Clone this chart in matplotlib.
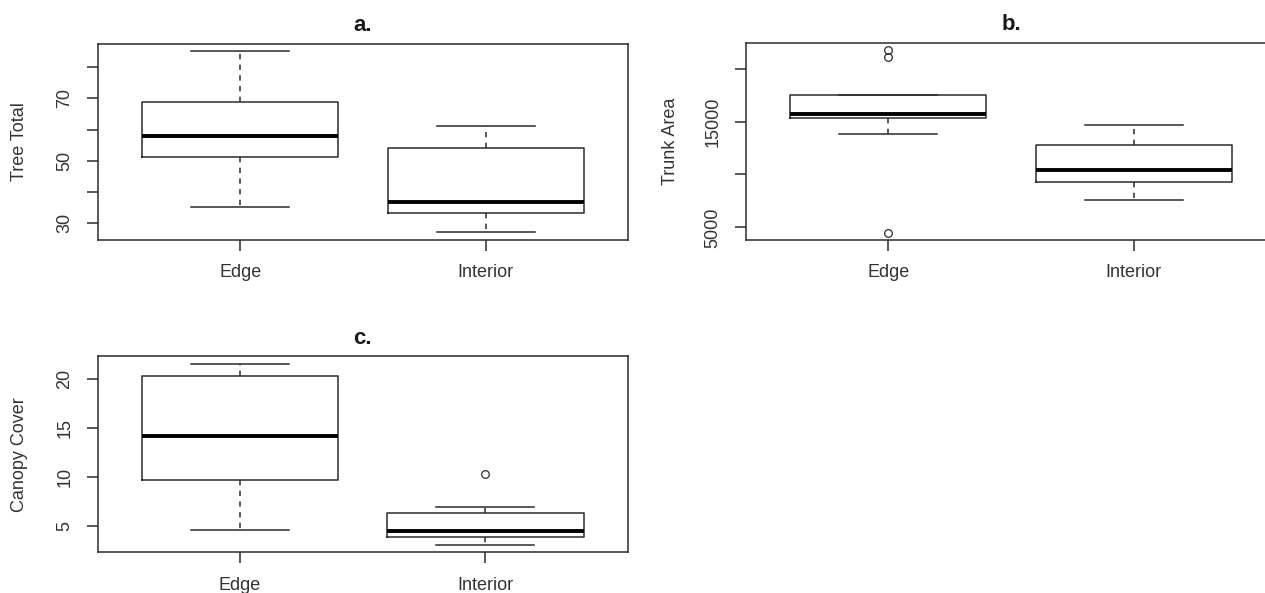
import matplotlib
matplotlib.use('Agg')
import matplotlib.pyplot as plt
import numpy as np

# groups on the x axis
groups = ["Edge", "Interior"]

# five-number summaries: whisker low, Q1, median, Q3, whisker high
tree_edge = [35.2, 51.2, 57.9, 68.9, 85.2]
tree_interior = [27.1, 33.2, 36.7, 54.0, 61.1]
tree_edge_out = []
tree_interior_out = []

trunk_edge = [13840, 15350, 15730, 17520, 17520]
trunk_interior = [7610, 9280, 10470, 12800, 14690]
trunk_edge_out = [4500, 21070, 21760]
trunk_interior_out = []

canopy_edge = [4.55, 9.7, 14.2, 20.3, 21.6]
canopy_interior = [3.06, 3.84, 4.52, 6.33, 6.9]
canopy_edge_out = []
canopy_interior_out = [10.3]

# y ticks; only some of them carry a label (as in the R original)
tree_ticks = [30, 40, 50, 60, 70, 80]
tree_labels = ["30", "", "50", "", "70", ""]
trunk_ticks = [5000, 10000, 15000, 20000]
trunk_labels = ["5000", "", "15000", ""]
canopy_ticks = [5, 10, 15, 20]
canopy_labels = ["5", "10", "15", "20"]

W, H = 1265, 593
TXT = '#333333'
LINE = '#2b2b2b'

plt.rcParams['font.family'] = ['Liberation Sans', 'DejaVu Sans']
plt.rcParams['text.color'] = TXT


def px_axes(fig, left, top, right, bottom):
    return fig.add_axes([left / W, 1 - bottom / H, (right - left) / W, (bottom - top) / H])


def make_stats(summary, outliers):
    lo, q1, med, q3, hi = summary
    return dict(whislo=lo, q1=q1, med=med, q3=q3, whishi=hi, fliers=outliers)


def draw_panel(ax, title, ylabel, s1, o1, s2, o2, ticks, labels, ylab_x):
    stats = [make_stats(s1, o1), make_stats(s2, o2)]
    ax.bxp(stats, positions=[1, 2], widths=0.8, capwidths=0.4,
           boxprops=dict(color=LINE, lw=1.1),
           whiskerprops=dict(color=LINE, lw=1.1, linestyle=(0, (3.5, 3.5))),
           capprops=dict(color=LINE, lw=1.1),
           medianprops=dict(color='black', lw=2.8, solid_capstyle='butt'),
           flierprops=dict(marker='o', markerfacecolor='none', markeredgecolor=LINE,
                           markersize=5.5, markeredgewidth=0.9))

    # R style limits: data range plus 4 percent
    vals = list(s1) + list(s2) + list(o1) + list(o2)
    lo, hi = min(vals), max(vals)
    pad = 0.04 * (hi - lo)
    ax.set_ylim(lo - pad, hi + pad)
    ax.set_xlim(0.42, 2.58)

    ax.set_xticks([1, 2])
    ax.set_xticklabels(groups)
    ax.set_yticks(ticks)
    ax.set_yticklabels(labels)
    ax.tick_params(axis='both', direction='out', length=8, width=1.1,
                   color=LINE, labelcolor=TXT, labelsize=13)
    ax.tick_params(axis='x', pad=9.5)
    ax.tick_params(axis='y', pad=9.5, labelrotation=90)
    for lab in ax.get_yticklabels():
        lab.set_va('center')

    for sp in ax.spines.values():
        sp.set_color(LINE)
        sp.set_linewidth(1.1)

    ax.set_title(title, fontsize=16, fontweight='bold', color='#1a1a1a', pad=9)
    ax.set_ylabel(ylabel, fontsize=13, color=TXT, va='center')
    ax.yaxis.set_label_coords(ylab_x, 0.5)


fig = plt.figure(figsize=(W / 100, H / 100), dpi=100)
fig.patch.set_facecolor('white')

ax_a = px_axes(fig, 97.7, 43.7, 628.3, 239.7)
ax_b = px_axes(fig, 745.7, 42.7, 1276.3, 240.0)
ax_c = px_axes(fig, 97.7, 356.3, 627.7, 552.3)

draw_panel(ax_a, "a.", "Tree Total", tree_edge, tree_edge_out,
           tree_interior, tree_interior_out, tree_ticks, tree_labels, -78.5 / 530.6)
draw_panel(ax_b, "b.", "Trunk Area", trunk_edge, trunk_edge_out,
           trunk_interior, trunk_interior_out, trunk_ticks, trunk_labels, -75.0 / 530.6)
draw_panel(ax_c, "c.", "Canopy Cover", canopy_edge, canopy_edge_out,
           canopy_interior, canopy_interior_out, canopy_ticks, canopy_labels, -78.5 / 530.0)

fig.savefig("out.png", dpi=100)
